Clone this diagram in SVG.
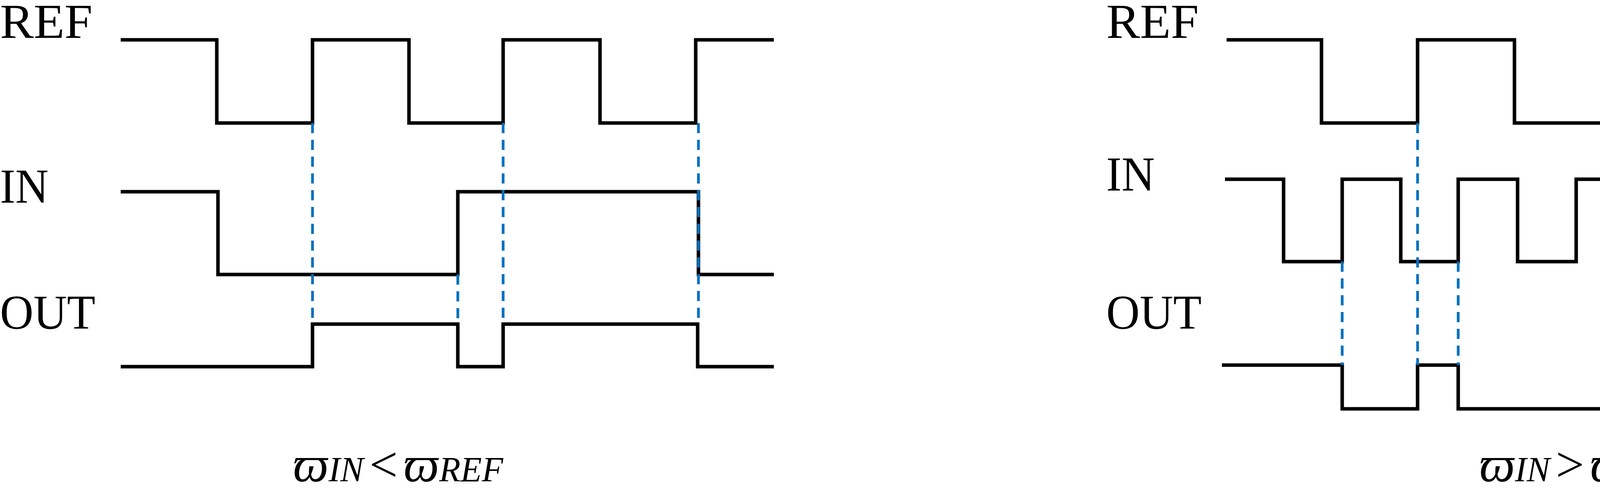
<svg xmlns="http://www.w3.org/2000/svg" width="4800" height="1260" viewBox="0 0 4800 1260">
<style>
.w{fill:none;stroke:#000;stroke-width:9;stroke-linejoin:miter}
.d{fill:none;stroke:#0070C0;stroke-width:7;stroke-dasharray:26 17}
.l{font-family:"Liberation Serif",serif;font-size:124px;fill:#000}
.f{font-family:"Liberation Serif",serif;font-style:italic;fill:#000}
</style>
<rect width="4800" height="1260" fill="#fff"/>
<g id="left-labels">
<text class="l" x="0" y="97" textLength="237" lengthAdjust="spacingAndGlyphs">REF</text>
<text class="l" x="0" y="519" textLength="124" lengthAdjust="spacingAndGlyphs">IN</text>
<text class="l" x="0" y="842" textLength="244" lengthAdjust="spacingAndGlyphs">OUT</text>
</g>
<g id="left-waves">
<path class="w" d="M309,102H555V315H800V102H1047V315H1288V102H1536V315H1781V102H1981"/>
<path class="w" d="M309,491H558V703H1172V491H1788V703H1981"/>
<path class="w" d="M309,939H800V830H1172V939H1288V830H1786V939H1981"/>
</g>
<g id="left-dashes">
<path class="d" d="M800,315V830M1288,315V830M1788,315V830M1172,703V830"/>
</g>
<text class="f" x="750" y="1233" font-size="130" textLength="538" lengthAdjust="spacingAndGlyphs">ϖ<tspan font-size="90">IN</tspan><tspan font-style="normal" dx="15">&lt;</tspan><tspan dx="15">ϖ</tspan><tspan font-size="90">REF</tspan></text>
<g id="right-labels">
<text class="l" x="2832" y="97" textLength="237" lengthAdjust="spacingAndGlyphs">REF</text>
<text class="l" x="2832" y="488" textLength="124" lengthAdjust="spacingAndGlyphs">IN</text>
<text class="l" x="2832" y="842" textLength="244" lengthAdjust="spacingAndGlyphs">OUT</text>
</g>
<g id="right-waves">
<path class="w" d="M3140,102H3383V315H3629V102H3877V315H4119V102H4365V315H4609V102H4800"/>
<path class="w" d="M3136,459H3286V670H3436V459H3586V670H3733V459H3885V670H4035V459H4186V670H4337V459H4487V670H4638V459H4788V670"/>
<path class="w" d="M3128,935H3436V1047H3629V935H3733V1047H4119V935H4337V1047H4609V935H4638V1047H4797"/>
</g>
<g id="right-dashes">
<path class="d" d="M3436,670V935M3629,315V935M3733,670V935M4119,315V935M4337,670V935M4609,315V935M4638,670V935"/>
</g>
<text class="f" x="3787" y="1233" font-size="130" textLength="539" lengthAdjust="spacingAndGlyphs">ϖ<tspan font-size="90">IN</tspan><tspan font-style="normal" dx="15">&gt;</tspan><tspan dx="15">ϖ</tspan><tspan font-size="90">REF</tspan></text>
</svg>
